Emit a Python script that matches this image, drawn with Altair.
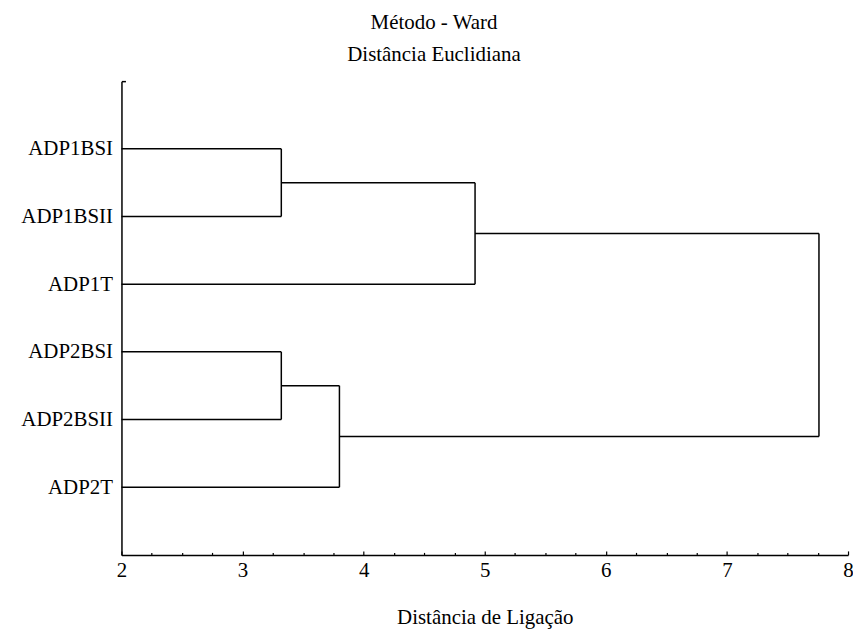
import json
import altair as alt
import pandas as pd

# Leaves (top to bottom) and the linkage (child a, child b, linkage distance)
leaves = ["ADP1BSI", "ADP1BSII", "ADP1T", "ADP2BSI", "ADP2BSII", "ADP2T"]
link_a = [0, 6, 3, 8, 7]
link_b = [1, 2, 4, 5, 9]
link_h = [3.32, 4.92, 3.32, 3.80, 7.76]
x_ticks = [2, 3, 4, 5, 6, 7, 8]
x_minor = [2 + 0.25 * i for i in range(25)]

# Build dendrogram segments from the linkage
base_x = 2.0
node_y = [i + 1 for i in range(len(leaves))]
node_h = [base_x] * len(leaves)
rows = []
for a, b, h in zip(link_a, link_b, link_h):
    ya, yb = node_y[a], node_y[b]
    rows.append({"x": node_h[a], "x2": h, "y": ya, "y2": ya})
    rows.append({"x": node_h[b], "x2": h, "y": yb, "y2": yb})
    rows.append({"x": h, "x2": h, "y": ya, "y2": yb})
    node_y.append((ya + yb) / 2)
    node_h.append(h)
seg = pd.DataFrame(rows)

FONT = "Liberation Serif"
FS = 21
W, H = 730, 476

xscale = alt.Scale(domain=[2, 8], nice=False, zero=False)
yscale = alt.Scale(domain=[0, 7], reverse=True, nice=False, zero=False)

label_expr = json.dumps(leaves) + "[datum.value - 1]"

main = alt.Chart(seg).mark_rule(color="black", strokeWidth=1.5).encode(
    x=alt.X("x:Q", scale=xscale, axis=alt.Axis(
        orient="bottom", values=x_ticks, ticks=False, grid=False, domain=True,
        domainColor="black", domainWidth=1.5, labelFont=FONT, labelFontSize=FS,
        labelColor="black", labelPadding=5, title="Distância de Ligação",
        titleFont=FONT, titleFontSize=FS, titleFontWeight="normal", titleColor="black",
        titleBaseline="alphabetic", titleY=69, labelFlush=False)),
    x2="x2:Q",
    y=alt.Y("y:Q", scale=yscale, axis=alt.Axis(
        orient="left", values=list(range(1, len(leaves) + 1)), ticks=False, grid=False,
        domain=True, domainColor="black", domainWidth=1.5, labelFont=FONT,
        labelFontSize=FS, labelColor="black", labelPadding=9, labelExpr=label_expr,
        labelBaseline="middle", title=None, labelFlush=False)),
    y2="y2:Q",
)

ticks_layer = alt.Chart(seg).mark_rule(opacity=0).encode(
    x=alt.X("x:Q", scale=xscale, axis=alt.Axis(
        orient="top", offset=-H, values=x_minor, labels=False, domain=False, grid=False,
        ticks=True, tickColor="black", tickWidth=1.2,
        tickSize={"condition": {"test": "datum.value % 1 === 0", "value": 4}, "value": 2.5},
        title=None)),
    x2="x2:Q",
    y=alt.Y("y:Q", scale=yscale, axis=alt.Axis(
        orient="right", offset=-W, values=[0], labels=False, domain=False, grid=False,
        ticks=True, tickColor="black", tickWidth=1.5, tickSize=4, title=None)),
    y2="y2:Q",
)

chart = alt.layer(main, ticks_layer).resolve_axis(
    x="independent", y="independent"
).properties(
    width=W, height=H,
    background="white",
    title=alt.TitleParams(
        text="Método - Ward", subtitle="Distância Euclidiana",
        font=FONT, fontSize=FS, fontWeight="normal", color="black",
        subtitleFont=FONT, subtitleFontSize=FS, subtitleColor="black",
        subtitlePadding=12, offset=15, anchor="middle", dx=-51),
    autosize=alt.AutoSizeParams(type="none"),
    padding={"left": 114, "top": 72, "right": 5, "bottom": 78},
).configure_view(strokeWidth=0, stroke="transparent")

chart.save("out.html", embed_options={"renderer": "svg", "actions": False})
